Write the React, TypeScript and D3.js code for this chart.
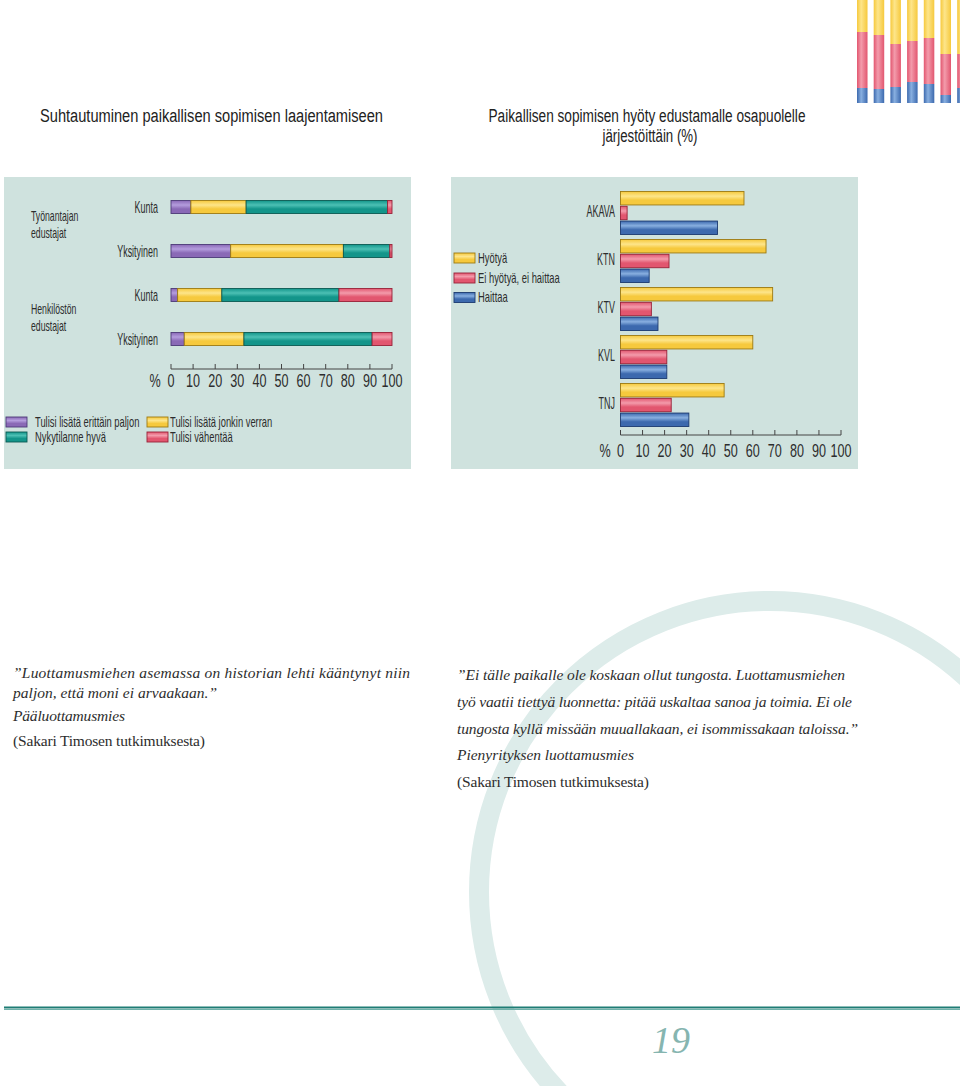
import React from "react";
import * as d3 from "d3";

// ---------- DATA ----------
const leftGroups = ["Työnantajan edustajat", "Henkilöstön edustajat"];
const leftSubCats = ["Kunta", "Yksityinen"];
const erittainPaljon = [9, 27, 3, 6];
const jonkinVerran = [25, 51, 20, 27];
const nykytilanne = [64, 21, 53, 58];
const vahentaa = [2, 1, 24, 9];
const leftSeriesNames = [
  "Tulisi lisätä erittäin paljon",
  "Tulisi lisätä jonkin verran",
  "Nykytilanne hyvä",
  "Tulisi vähentää",
];

const orgs = ["AKAVA", "KTN", "KTV", "KVL", "TNJ"];
const hyotya = [56, 66, 69, 60, 47];
const eiHyotya = [3, 22, 14, 21, 23];
const haittaa = [44, 13, 17, 21, 31];
const rightSeriesNames = ["Hyötyä", "Ei hyötyä, ei haittaa", "Haittaa"];

const tickValues = [0, 10, 20, 30, 40, 50, 60, 70, 80, 90, 100];

const decoYellow = [32, 35, 44, 41, 38, 54, 54];
const decoRed = [56, 54, 43, 41, 46, 41, 34];
const decoBlue = [15, 14, 16, 21, 19, 8, 15];

const leftTitle = "Suhtautuminen paikallisen sopimisen laajentamiseen";
const rightTitle = ["Paikallisen sopimisen hyöty edustamalle osapuolelle", "järjestöittäin (%)"];

const quoteLeft = [
  "”Luottamusmiehen asemassa on historian lehti kääntynyt niin",
  "paljon, että moni ei arvaakaan.”",
  "Pääluottamusmies",
];
const quoteRight = [
  "”Ei tälle paikalle ole koskaan ollut tungosta. Luottamusmiehen",
  "työ vaatii tiettyä luonnetta: pitää uskaltaa sanoa ja toimia. Ei ole",
  "tungosta kyllä missään muuallakaan, ei isommissakaan taloissa.”",
  "Pienyrityksen luottamusmies",
];
const sourceText = "(Sakari Timosen tutkimuksesta)";
const pageNumber = "19";

// ---------- STYLE ----------
const COLORS: Record<string, { base: string; light: string; stroke: string }> = {
  purple: { base: "#8a69b6", light: "#b49ddd", stroke: "#4d3a78" },
  yellow: { base: "#f6c93d", light: "#fde58a", stroke: "#9c7a12" },
  teal: { base: "#13958a", light: "#4cc0b4", stroke: "#0a5a52" },
  red: { base: "#e2566f", light: "#f39bab", stroke: "#982238" },
  blue: { base: "#3c69ae", light: "#88afe0", stroke: "#1c3a70" },
};
const leftColors = ["purple", "yellow", "teal", "red"];
const rightColors = ["yellow", "red", "blue"];

const SANS = "'Liberation Sans', Arial, sans-serif";
const SERIF = "'Liberation Serif', 'Times New Roman', serif";
const TXT = "#2d2d2d";
const PANEL = "#cfe2de";
const groupLabelOffsets = [[-13, 4], [-8, 9]];

function CText(props: {
  x: number; y: number; sx?: number; size: number; anchor?: string; children: React.ReactNode;
}) {
  const { x, y, sx = 0.6, size, anchor = "start", children } = props;
  return (
    <text
      transform={`translate(${x},${y}) scale(${sx},1)`}
      fontSize={size}
      fontFamily={SANS}
      textAnchor={anchor as any}
      dominantBaseline="central"
      fill={TXT}
    >
      {children}
    </text>
  );
}

function Swatch({ x, y, w, h, c }: { x: number; y: number; w: number; h: number; c: string }) {
  return (
    <rect x={x} y={y} width={w} height={h} fill={`url(#gv-${c})`} stroke={COLORS[c].stroke} strokeWidth={0.9} />
  );
}

export default function App() {
  // ----- left chart scales -----
  const xL = d3.scaleLinear().domain([0, 100]).range([171, 392]);
  const yGroupL = d3.scaleBand<string>().domain(leftGroups).range([185, 361]);
  const ySubL = d3.scaleBand<string>().domain(leftSubCats).range([0, yGroupL.step()]);
  const barHL = 13;
  const leftRows = leftGroups.flatMap((g) => leftSubCats.map((s) => ({ g, s })));
  const leftSeries = [erittainPaljon, jonkinVerran, nykytilanne, vahentaa];
  const stackData = leftRows.map((r, i) => {
    const o: any = { key: i };
    leftSeries.forEach((arr, k) => (o[k] = arr[i]));
    return o;
  });
  const stack = d3.stack<any>().keys(["0", "1", "2", "3"] as any)(stackData);

  // ----- right chart scales -----
  const xR = d3.scaleLinear().domain([0, 100]).range([620.5, 841]);
  const yGroupR = d3.scaleBand<string>().domain(orgs).range([191.5, 431.5]);
  const ySubR = d3.scaleBand<string>().domain(rightSeriesNames).range([0, 43]).paddingInner(0.09);
  const rightSeries = [hyotya, eiHyotya, haittaa];

  // ----- decoration -----
  const xDeco = d3.scaleBand<number>().domain(d3.range(decoYellow.length)).range([857, 967.7]).paddingInner(0.37);
  const yDeco = d3.scaleLinear().domain([0, 103]).range([103, 0]);
  const decoStack = d3.stack<any>().keys(["b", "r", "y"])(
    decoYellow.map((y, i) => ({ y, r: decoRed[i], b: decoBlue[i] }))
  );
  const decoColor: Record<string, string> = { b: "blue", r: "red", y: "yellow" };

  const axis = (x: d3.ScaleLinear<number, number>, yLine: number, yLab: number, pctX: number) => (
    <g>
      <line x1={x(0)} x2={x(100)} y1={yLine} y2={yLine} stroke="#444" strokeWidth={1} />
      {tickValues.map((t) => (
        <line key={t} x1={x(t)} x2={x(t)} y1={yLine - 5} y2={yLine} stroke="#444" strokeWidth={1} />
      ))}
      {tickValues.map((t) => (
        <CText key={"l" + t} x={x(t)} y={yLab} size={18} sx={0.7} anchor="middle">
          {t}
        </CText>
      ))}
      <CText x={pctX} y={yLab} size={18} sx={0.7} anchor="middle">%</CText>
    </g>
  );

  return (
    <svg width={960} height={1086} style={{ position: "absolute", left: 0, top: 0, background: "#fff" }}>
      <defs>
        {Object.entries(COLORS).map(([k, c]) => (
          <linearGradient key={k} id={`gv-${k}`} x1="0" y1="0" x2="0" y2="1">
            <stop offset="0%" stopColor={c.base} />
            <stop offset="35%" stopColor={c.light} />
            <stop offset="65%" stopColor={c.base} />
            <stop offset="100%" stopColor={c.base} />
          </linearGradient>
        ))}
        {Object.entries(COLORS).map(([k, c]) => (
          <linearGradient key={"h" + k} id={`gh-${k}`} x1="0" y1="0" x2="1" y2="0">
            <stop offset="0%" stopColor={c.base} />
            <stop offset="40%" stopColor={c.light} />
            <stop offset="100%" stopColor={c.base} />
          </linearGradient>
        ))}
      </defs>

      {/* big decorative ring */}
      <circle cx={770} cy={892} r={291} fill="none" stroke="#ddecea" strokeWidth={20} />

      {/* top-right decorative bars */}
      {decoStack.map((layer) =>
        layer.map((d, i) => (
          <rect
            key={layer.key + i}
            x={xDeco(i)}
            width={xDeco.bandwidth()}
            y={yDeco(d[1])}
            height={yDeco(d[0]) - yDeco(d[1])}
            fill={`url(#gh-${decoColor[layer.key]})`}
          />
        ))
      )}

      {/* titles */}
      <text x={40} y={122} fontSize={18} fontFamily={SANS} fill="#222" textLength={343} lengthAdjust="spacingAndGlyphs">
        {leftTitle}
      </text>
      <text x={647} y={122} fontSize={18} fontFamily={SANS} fill="#222" textAnchor="middle" textLength={317} lengthAdjust="spacingAndGlyphs">
        {rightTitle[0]}
      </text>
      <text x={650} y={142} fontSize={18} fontFamily={SANS} fill="#222" textAnchor="middle" textLength={95} lengthAdjust="spacingAndGlyphs">
        {rightTitle[1]}
      </text>

      {/* panels */}
      <rect x={4} y={177} width={407} height={292} fill={PANEL} />
      <rect x={451} y={177} width={407} height={292} fill={PANEL} />

      {/* left chart */}
      {leftGroups.map((g, gi) => {
        const [l1, l2] = g.split(" ");
        const cy = (yGroupL(g) as number) + yGroupL.step() / 2;
        return (
          <g key={g}>
            <CText x={31} y={cy + groupLabelOffsets[gi][0]} size={15} sx={0.58}>{l1}</CText>
            <CText x={31} y={cy + groupLabelOffsets[gi][1]} size={15} sx={0.58}>{l2}</CText>
          </g>
        );
      })}
      {leftRows.map((r, i) => {
        const cy = (yGroupL(r.g) as number) + (ySubL(r.s) as number) + ySubL.bandwidth() / 2;
        return (
          <CText key={"c" + i} x={158} y={cy} size={16} sx={0.56} anchor="end">{r.s}</CText>
        );
      })}
      {stack.map((layer, k) =>
        layer.map((d, i) => {
          const r = leftRows[i];
          const cy = (yGroupL(r.g) as number) + (ySubL(r.s) as number) + ySubL.bandwidth() / 2;
          return (
            <rect
              key={k + "-" + i}
              x={xL(d[0])}
              width={xL(d[1]) - xL(d[0])}
              y={cy - barHL / 2}
              height={barHL}
              fill={`url(#gv-${leftColors[k]})`}
              stroke={COLORS[leftColors[k]].stroke}
              strokeWidth={0.9}
            />
          );
        })
      )}
      {axis(xL, 369, 381, 155)}

      {/* left legend */}
      {leftSeriesNames.map((n, i) => {
        const col = i % 2 === 0 ? 0 : 1;
        const row = i < 2 ? 0 : 1;
        const sx = col === 0 ? 6 : 147;
        const sy = row === 0 ? 417 : 432;
        return (
          <g key={n}>
            <Swatch x={sx} y={sy} w={21} h={10} c={leftColors[i]} />
            <CText x={sx + (col === 0 ? 29 : 23)} y={sy + 5.5} size={14} sx={0.67}>{n}</CText>
          </g>
        );
      })}

      {/* right chart */}
      {orgs.map((o, gi) => (
        <g key={o}>
          <CText x={615} y={(yGroupR(o) as number) + 20} size={16} sx={0.56} anchor="end">{o}</CText>
          {rightSeries.map((arr, k) => (
            <rect
              key={k}
              x={xR(0)}
              width={xR(arr[gi]) - xR(0)}
              y={(yGroupR(o) as number) + (ySubR(rightSeriesNames[k]) as number)}
              height={ySubR.bandwidth()}
              fill={`url(#gv-${rightColors[k]})`}
              stroke={COLORS[rightColors[k]].stroke}
              strokeWidth={0.9}
            />
          ))}
        </g>
      ))}
      {axis(xR, 435, 451, 605)}

      {/* right legend */}
      {rightSeriesNames.map((n, i) => {
        const cy = [258, 278, 297.5][i];
        return (
          <g key={n}>
            <Swatch x={454} y={cy - 5} w={21} h={10} c={rightColors[i]} />
            <CText x={478} y={cy} size={14} sx={0.67}>{n}</CText>
          </g>
        );
      })}

      {/* quotes */}
      <g fontFamily={SERIF} fill={TXT} fontSize={15.5}>
        <text x={13} y={678} fontStyle="italic" textLength={397} lengthAdjust="spacing">{quoteLeft[0]}</text>
        <text x={13} y={698} fontStyle="italic" textLength={204} lengthAdjust="spacing">{quoteLeft[1]}</text>
        <text x={13} y={721} fontStyle="italic" textLength={112} lengthAdjust="spacing">{quoteLeft[2]}</text>
        <text x={13} y={746} textLength={192} lengthAdjust="spacing">{sourceText}</text>

        <text x={457} y={680} fontStyle="italic" textLength={388} lengthAdjust="spacing">{quoteRight[0]}</text>
        <text x={457} y={707} fontStyle="italic" textLength={395} lengthAdjust="spacing">{quoteRight[1]}</text>
        <text x={457} y={734} fontStyle="italic" textLength={401} lengthAdjust="spacing">{quoteRight[2]}</text>
        <text x={457} y={760} fontStyle="italic" textLength={177} lengthAdjust="spacing">{quoteRight[3]}</text>
        <text x={457} y={787} textLength={192} lengthAdjust="spacing">{sourceText}</text>
      </g>

      {/* bottom rule and page number */}
      <line x1={4} x2={960} y1={1007.5} y2={1007.5} stroke="#1f7d75" strokeWidth={2} />
      <line x1={4} x2={960} y1={1009.5} y2={1009.5} stroke="#6fb2aa" strokeWidth={1.2} />
      <text x={671} y={1053} fontFamily={SERIF} fontStyle="italic" fontSize={38} fill="#86b5b0" textAnchor="middle">
        {pageNumber}
      </text>
    </svg>
  );
}
